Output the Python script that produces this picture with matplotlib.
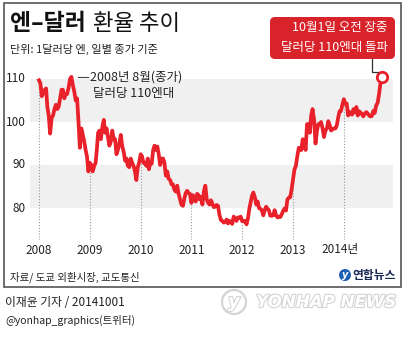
import numpy as np
import pandas as pd
import matplotlib
matplotlib.use("Agg")
import matplotlib.pyplot as plt
import matplotlib.dates as mdates
import matplotlib.patheffects as pe
from matplotlib.patches import FancyBboxPatch, Rectangle, Circle
from matplotlib.lines import Line2D
from matplotlib.transforms import Affine2D, blended_transform_factory

plt.rcParams['font.family'] = ['Noto Sans CJK KR', 'DejaVu Sans']

# Yen per dollar, Tokyo close, on the 1st, 11th and 21st of each month
usdjpy_2008 = [109.7, 109.0, 106.0, 106.8, 107.5, 107.8, 103.5, 101.5, 97.3,
               101.0, 101.5, 103.0, 104.0, 103.0, 103.5, 105.5, 107.5, 107.5,
               105.5, 106.5, 106.5, 108.0, 110.0, 110.5, 108.5, 107.0, 105.0,
               105.5, 100.0, 94.0, 98.5, 97.0, 95.5, 93.5, 92.0, 88.5]
usdjpy_2009 = [90.5, 90.0, 88.5, 89.8, 90.5, 94.0, 97.5, 98.0, 96.0,
               99.0, 100.5, 97.5, 98.5, 96.5, 94.5, 95.5, 98.0, 96.0,
               96.0, 92.5, 93.5, 95.0, 97.0, 94.5, 93.0, 91.0, 91.5,
               89.8, 89.5, 91.5, 90.5, 89.8, 88.5, 86.5, 89.5, 90.5]
usdjpy_2010 = [92.5, 92.0, 90.5, 90.5, 89.8, 91.5, 89.0, 90.5, 90.3,
               93.5, 94.5, 93.5, 94.3, 92.5, 90.0, 91.5, 91.5, 90.5,
               87.5, 88.5, 86.8, 86.5, 85.5, 85.5, 84.2, 83.8, 85.2,
               83.3, 82.0, 80.8, 80.5, 82.2, 83.5, 84.0, 83.5, 83.3]
usdjpy_2011 = [81.2, 83.0, 82.5, 81.5, 83.3, 83.0, 82.0, 82.5, 80.8,
               84.0, 85.2, 82.0, 81.2, 80.8, 81.8, 81.0, 80.2, 80.3,
               80.7, 80.5, 78.5, 77.2, 77.0, 76.6, 76.8, 77.3, 76.4,
               77.0, 76.8, 76.3, 78.0, 77.5, 77.0, 77.8, 77.7, 78.0]
usdjpy_2012 = [76.9, 76.9, 77.0, 76.2, 77.5, 79.8, 81.2, 82.8, 83.6,
               82.5, 80.8, 81.5, 80.0, 79.8, 79.5, 78.3, 79.5, 80.3,
               79.8, 79.5, 78.2, 78.2, 78.3, 79.5, 78.3, 77.8, 78.0,
               77.9, 78.5, 79.3, 79.9, 79.4, 82.0, 82.4, 82.5, 84.3]
usdjpy_2013 = [86.7, 89.0, 89.8, 92.2, 94.0, 93.5, 93.5, 96.0, 95.3,
               93.5, 99.5, 99.5, 97.5, 101.5, 103.0, 100.5, 95.0, 97.8,
               99.5, 99.5, 100.0, 98.5, 96.5, 98.0, 98.5, 100.2, 99.3,
               98.0, 98.3, 98.5, 98.5, 99.2, 101.0, 102.5, 102.5, 104.0]
usdjpy_2014 = [105.3, 104.2, 104.3, 101.5, 102.3, 102.2, 101.7, 103.0, 102.2,
               103.5, 101.5, 102.5, 102.2, 101.8, 101.3, 102.0, 102.3, 102.0,
               101.5, 101.3, 101.4, 102.6, 102.1, 103.8, 104.5, 106.5, 109.0,
               110.5]

values = np.array(usdjpy_2008 + usdjpy_2009 + usdjpy_2010 + usdjpy_2011
                  + usdjpy_2012 + usdjpy_2013 + usdjpy_2014)
dates = [pd.Timestamp(y, m, d) for y in range(2008, 2015) for m in range(1, 13)
         for d in (1, 11, 21)]
dates = [d for d in dates if d <= pd.Timestamp('2014-10-01')]

years = [2008, 2009, 2010, 2011, 2012, 2013, 2014]
year_labels = ['2008', '2009', '2010', '2011', '2012', '2013', '2014년']
yticks = [80, 90, 100, 110]

RED = '#e8212b'
W, H = 405, 341
fig = plt.figure(figsize=(W / 100, H / 100), dpi=100)
fig.patch.set_facecolor('white')

# pixel coordinates (y downward) -> display
pxT = Affine2D().scale(1 / 100, -1 / 100).translate(0, H / 100) + fig.dpi_scale_trans


def fx(x):
    return x / W


def fy(y):
    return 1 - y / H


# frame
fig.add_artist(Rectangle((4, 3), 397, 284, transform=pxT, fill=False,
                         edgecolor='#555555', lw=1.2))

# plot area
ax_l, ax_r, ax_t, ax_b = 30, 393, 70, 240
ax = fig.add_axes([fx(ax_l), fy(ax_b), (ax_r - ax_l) / W, (ax_b - ax_t) / H])
ax.set_facecolor('none')
for s in ax.spines.values():
    s.set_visible(False)
ax.set_xticks([])
ax.set_yticks([])

d0 = mdates.date2num(pd.Timestamp('2008-01-01'))
px_per_day = 50.8 / 365.25
ax.set_xlim(d0 - (39 - ax_l) / px_per_day, d0 + (ax_r - 39) / px_per_day)
px_per_unit = 4.3
ax.set_ylim(110 - (ax_b - 79) / px_per_unit, 110 + (79 - ax_t) / px_per_unit)

ax.axhspan(100, 110, color='#f0f0f0', lw=0, zorder=0)
ax.axhspan(80, 90, color='#f0f0f0', lw=0, zorder=0)

xnum = mdates.date2num(dates)
ymin = ax.get_ylim()[0]
for yr in years:
    d = mdates.date2num(pd.Timestamp(f'{yr}-01-01'))
    v = np.interp(d, xnum, values)
    ax.vlines(d, ymin, v, colors='#9a9a9a', linestyles=(0, (1, 1.6)), lw=0.8, zorder=1)

ax.plot(xnum, values, color=RED, lw=2.7, solid_joinstyle='round', zorder=3, clip_on=False)
ax.plot(xnum[-1], values[-1], marker='o', ms=7.5, mfc='white', mec=RED, mew=2.0,
        zorder=5, clip_on=False)

# axis labels
tr_y = blended_transform_factory(fig.transFigure, ax.transData)
for v in yticks:
    fig.text(fx(26), v, str(v), transform=tr_y, ha='right', va='center',
             fontsize=8.5, color='#222222')
tr_x = blended_transform_factory(ax.transData, fig.transFigure)
for yr, lab in zip(years, year_labels):
    d = mdates.date2num(pd.Timestamp(f'{yr}-01-01'))
    off = -4 / px_per_day if lab.endswith('년') else 0
    fig.text(d + off, fy(250), lab, transform=tr_x, ha='center', va='center',
             fontsize=8.5, color='#222222')

# title
fig.text(10, 23, '엔–달러', transform=pxT, ha='left', va='center', fontsize=16.5,
         fontweight='bold', color='#111111')
fig.text(93, 23, '환율 추이', transform=pxT, ha='left', va='center', fontsize=16,
         color='#111111')
fig.text(10, 49, '단위: 1달러당 엔, 일별 종가 기준', transform=pxT, ha='left', va='center',
         fontsize=8, color='#222222')

# peak annotation
fig.add_artist(Line2D([78, 88], [77, 77], transform=pxT, color='#444444', lw=0.8))
fig.text(90, 77, '2008년 8월(종가)', transform=pxT, ha='left', va='center',
         fontsize=9, color='#222222')
fig.text(93, 94, '달러당 110엔대', transform=pxT, ha='left', va='center',
         fontsize=9, color='#222222')

# callout
fig.add_artist(FancyBboxPatch((270, 17), 125, 42, transform=pxT,
                              boxstyle='round,pad=0,rounding_size=5',
                              facecolor='#d8232a', edgecolor='none'))
fig.text(388, 28, '10월1일 오전 장중', transform=pxT, ha='right', va='center',
         fontsize=9, color='white')
fig.text(388, 47, '달러당 110엔대 돌파', transform=pxT, ha='right', va='center',
         fontsize=9, color='white')
fig.add_artist(Line2D([372, 372, 378], [59, 72, 72], transform=pxT, color='#333333', lw=0.9))

# source and logo
fig.text(10, 277, '자료/ 도쿄 외환시장, 교도통신', transform=pxT, ha='left', va='center',
         fontsize=7.5, color='#222222')
fig.add_artist(Circle((345, 275), 6, transform=pxT, facecolor='#1d5fb4', edgecolor='none'))
fig.text(345, 275, 'y', transform=pxT, ha='center', va='center', fontsize=7,
         fontweight='bold', color='white', style='italic', family='DejaVu Sans')
fig.text(352, 275, '연합뉴스', transform=pxT, ha='left', va='center', fontsize=8.5,
         fontweight='bold', color='#1b2a55')

# credits
fig.text(5, 302, '이재윤 기자 / 20141001', transform=pxT, ha='left', va='center',
         fontsize=8.5, color='#222222')
fig.text(5, 320, '@yonhap_graphics(트위터)', transform=pxT, ha='left', va='center',
         fontsize=7.5, color='#222222')

# watermark
fig.add_artist(Circle((234, 302), 12, transform=pxT, facecolor='white',
                      edgecolor='#d4d4d4', lw=1.6))
fig.text(234, 302, 'y', transform=pxT, ha='center', va='center', fontsize=13,
         fontweight='bold', style='italic', family='DejaVu Sans', color='white',
         path_effects=[pe.withStroke(linewidth=1.6, foreground='#d4d4d4')])
fig.text(326, 302, 'YONHAP NEWS', transform=pxT, ha='center', va='center', fontsize=12,
         fontweight='bold', style='italic', family='DejaVu Sans', color='white',
         path_effects=[pe.withStroke(linewidth=1.6, foreground='#d4d4d4')])

fig.savefig('out.png', dpi=100, facecolor='white')
